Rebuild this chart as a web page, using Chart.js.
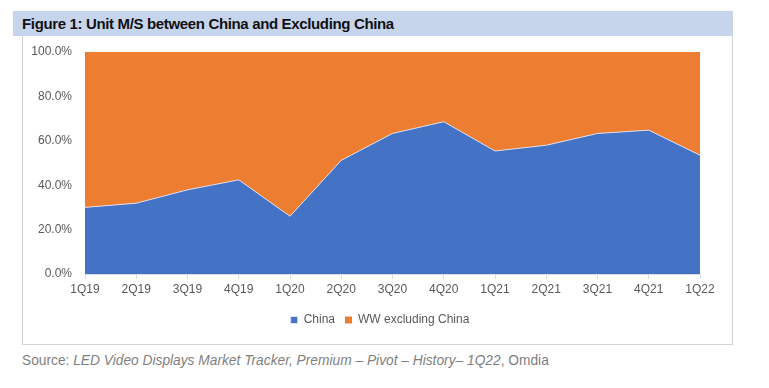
<!DOCTYPE html>
<html><head><meta charset="utf-8">
<script src="https://cdn.jsdelivr.net/npm/chart.js@4"></script>
<style>
html,body{margin:0;padding:0;background:#fff;width:769px;height:388px;overflow:hidden;font-family:"Liberation Sans",Arial,sans-serif;}
#title{position:absolute;left:13px;top:11px;width:720px;height:25px;background:#c6d5ec;font-weight:bold;font-size:15px;letter-spacing:-0.35px;line-height:25px;color:#111;padding-left:9px;box-sizing:border-box;white-space:nowrap;}
#box{position:absolute;left:22px;top:36px;width:711px;height:309px;border-left:1px solid #d4d4d4;border-right:1px solid #d4d4d4;border-bottom:1px solid #d4d4d4;box-sizing:border-box;}
#wrap{position:absolute;left:22px;top:36px;width:711px;height:308px;}
#src{position:absolute;left:22px;top:353px;font-size:13.75px;color:#7f7f7f;white-space:nowrap;}
</style></head><body>
<div id="title">Figure 1: Unit M/S between China and Excluding China</div>
<div id="box"></div>
<div id="wrap"><canvas id="c"></canvas></div>
<div id="src">Source: <i>LED Video Displays Market Tracker, Premium – Pivot – History– 1Q22</i>, Omdia</div>
<script>
const categories = ["1Q19","2Q19","3Q19","4Q19","1Q20","2Q20","3Q20","4Q20","1Q21","2Q21","3Q21","4Q21","1Q22"];
const chinaShare = [30.0,31.9,37.9,42.4,26.0,51.2,63.3,68.6,55.4,58.0,63.3,64.8,53.5];
const wwExChinaShare = [70.0,68.1,62.1,57.6,74.0,48.8,36.7,31.4,44.6,42.0,36.7,35.2,46.5];
const yTicks = [0,20,40,60,80,100];

const tickFont = {family:"Liberation Sans", size:12};
const legendShift = {
  id:'legendShift',
  afterLayout(chart){
    const l = chart.legend;
    if (l) { l.left += 19; l.right += 19; }
  }
};
new Chart(document.getElementById('c'), {
  type:'line',
  data:{labels:categories, datasets:[
    {label:'China', data:chinaShare, fill:'origin', backgroundColor:'#4472c4', borderColor:'rgba(230,230,240,0.9)', borderWidth:1, pointRadius:0, tension:0},
    {label:'WW excluding China', data:wwExChinaShare, fill:'-1', backgroundColor:'#ed7d31', borderColor:'#ed7d31', borderWidth:0, pointRadius:0, tension:0}
  ]},
  plugins:[legendShift],
  options:{
    responsive:true, maintainAspectRatio:false, animation:false,
    layout:{padding:{left:0,right:33,top:16,bottom:8}},
    plugins:{
      legend:{position:'bottom', labels:{boxWidth:7, boxHeight:7, color:'#595959', font:tickFont, padding:10}},
      tooltip:{enabled:false}
    },
    scales:{
      x:{stacked:true, offset:false,
        grid:{display:true, drawOnChartArea:false, drawTicks:true, tickLength:5, color:'#d9d9d9'},
        border:{color:'#d9d9d9'},
        ticks:{color:'#595959', font:tickFont, maxRotation:0, autoSkip:false, padding:3},
        afterFit:(s)=>{s.height=30;}
      },
      y:{stacked:true, min:0, max:100,
        afterBuildTicks:(s)=>{s.ticks=yTicks.map(v=>({value:v}));},
        grid:{display:true, drawOnChartArea:false, drawTicks:true, tickLength:10, color:'rgba(0,0,0,0)'}, border:{display:false},
        ticks:{color:'#595959', font:tickFont, padding:3, callback:(v)=>v.toFixed(1)+'%'},
        afterFit:(s)=>{s.width=63;}
      }
    }
  }
});
</script>
</body></html>
